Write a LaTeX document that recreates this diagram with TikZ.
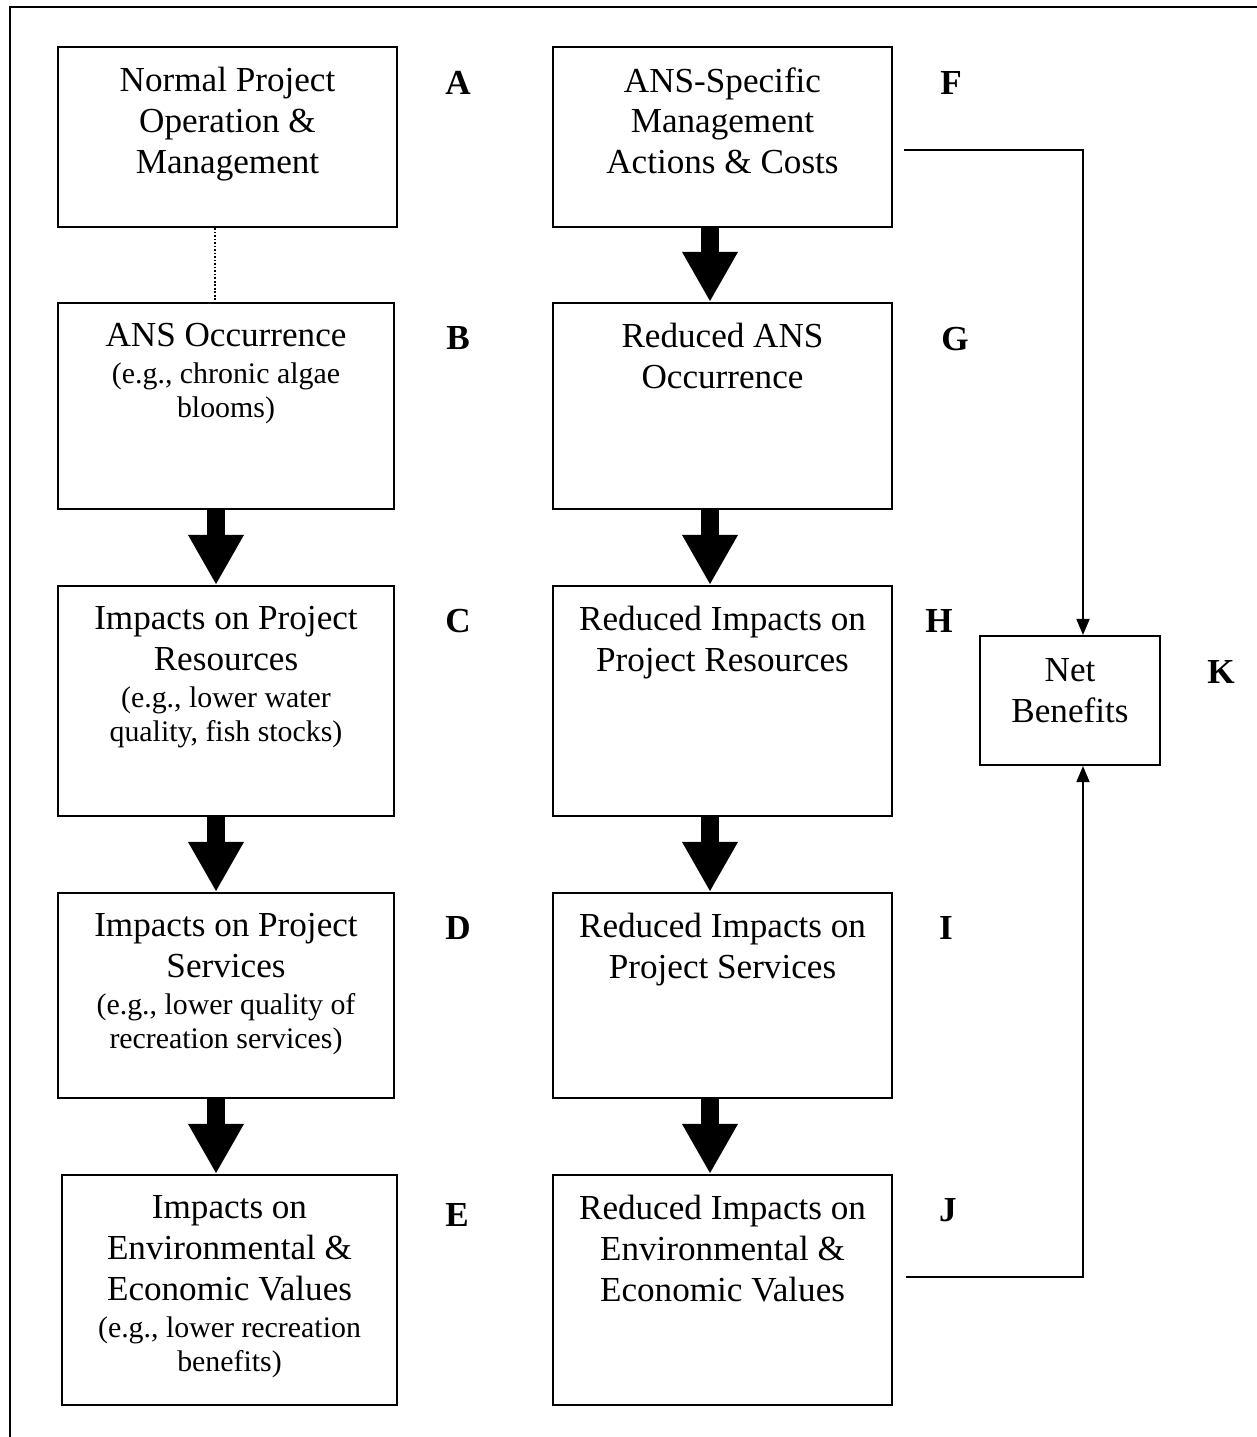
\documentclass[tikz,border=0pt]{standalone}
\usepackage{fontspec}
\setmainfont{Liberation Serif}
\usetikzlibrary{arrows.meta}

\newcommand\mainfnt{\fontsize{20}{23.3}\selectfont}
\newcommand\notefnt{\fontsize{17}{19.3}\selectfont}
\newcommand\note[1]{\par\vspace{1.8pt}{\notefnt #1\par}}

\begin{document}
\begin{tikzpicture}[x=0.02cm,y=-0.02cm]
    \tikzstyle{stage}=[draw,line width=1.2pt,inner sep=0pt]
    \tikzstyle{stagetext}=[anchor=north,text width=6.5cm,align=flush center,inner sep=0pt,font=\mainfnt]
    \tikzstyle{tag}=[font=\mainfnt\bfseries,inner sep=0pt]
    \tikzstyle{bigarrow}=[line width=0.36cm,-{Triangle[width=1.04cm,length=1cm]}]
    \tikzstyle{link}=[line width=1pt,-{Triangle[width=0.26cm,length=0.32cm]}]

    \useasboundingbox (0,0) rectangle (1257,1437);

    % outer frame (right and bottom edges lie outside the page)
    \draw[line width=1.6pt] (10,1460) -- (10,7) -- (1280,7);

    % left column: without ANS management
    \node[stage,minimum width=6.78cm,minimum height=3.6cm] (A) at (227.5,137) {};
    \node[stage,minimum width=6.72cm,minimum height=4.12cm] (B) at (226,406) {};
    \node[stage,minimum width=6.72cm,minimum height=4.6cm] (C) at (226,701) {};
    \node[stage,minimum width=6.72cm,minimum height=4.1cm] (D) at (226,995.5) {};
    \node[stage,minimum width=6.7cm,minimum height=4.6cm] (E) at (229.5,1290) {};

    \node[stagetext] (A-txt) at ([yshift=-0.42cm]A.north)
      {Normal Project\\ Operation \&\\ Management};
    \node[stagetext] (B-txt) at ([yshift=-0.42cm]B.north)
      {ANS Occurrence\note{(e.g., chronic algae\\ blooms)}};
    \node[stagetext] (C-txt) at ([yshift=-0.42cm]C.north)
      {Impacts on Project\\ Resources\note{(e.g., lower water\\ quality, fish stocks)}};
    \node[stagetext] (D-txt) at ([yshift=-0.42cm]D.north)
      {Impacts on Project\\ Services\note{(e.g., lower quality of\\ recreation services)}};
    \node[stagetext] (E-txt) at ([yshift=-0.42cm]E.north)
      {Impacts on\\ Environmental \&\\ Economic Values\note{(e.g., lower recreation\\ benefits)}};

    % right column: with ANS management
    \node[stage,minimum width=6.78cm,minimum height=3.6cm] (F) at (722.5,137) {};
    \node[stage,minimum width=6.78cm,minimum height=4.12cm] (G) at (722.5,406) {};
    \node[stage,minimum width=6.78cm,minimum height=4.6cm] (H) at (722.5,701) {};
    \node[stage,minimum width=6.78cm,minimum height=4.1cm] (I) at (722.5,995.5) {};
    \node[stage,minimum width=6.78cm,minimum height=4.6cm] (J) at (722.5,1290) {};

    \node[stagetext] (F-txt) at ([yshift=-0.42cm]F.north)
      {ANS-Specific\\ Management\\ Actions \& Costs};
    \node[stagetext] (G-txt) at ([yshift=-0.42cm]G.north)
      {Reduced ANS\\ Occurrence};
    \node[stagetext] (H-txt) at ([yshift=-0.42cm]H.north)
      {Reduced Impacts on\\ Project Resources};
    \node[stagetext] (I-txt) at ([yshift=-0.42cm]I.north)
      {Reduced Impacts on\\ Project Services};
    \node[stagetext] (J-txt) at ([yshift=-0.42cm]J.north)
      {Reduced Impacts on\\ Environmental \&\\ Economic Values};

    % net benefits
    \node[stage,minimum width=3.6cm,minimum height=2.58cm] (K) at (1070,700.5) {};
    \node[align=center,font=\mainfnt,inner sep=0pt] (K-txt) at ([yshift=0.2cm]K.center) {Net\\ Benefits};

    % letter tags
    \foreach \n/\x/\y in {A/458/83, B/458/338, C/458/621, D/458/928, E/457/1215,
                          F/951/83, G/955/339, H/939/621, I/946/928, J/948/1210, K/1221/672}
    \node[tag] (tag-\n) at (\x,\y) {\n};

    % dotted link between normal operation and occurrence
    \draw[line width=0.9pt,dash pattern=on 1pt off 1pt]
      ([xshift=-0.25cm]A.south) -- ([xshift=-0.25cm]A.south |- B.north);

    % block arrows down each column
    \foreach \src/\dst in {B/C,C/D,D/E}
    \draw[bigarrow] ([xshift=-0.2cm]\src.south) -- ([xshift=-0.2cm]\src.south |- \dst.north);
    \foreach \src/\dst in {F/G,G/H,H/I,I/J}
    \draw[bigarrow] ([xshift=-0.25cm]\src.south) -- ([xshift=-0.25cm]\src.south |- \dst.north);

    % costs and benefits feed into net benefits
    \draw[link] ([shift={(0.22cm,-0.26cm)}]F.east) -| ([xshift=0.26cm]K.north);
    \draw[link] ([shift={(0.26cm,0.26cm)}]J.east) -| ([xshift=0.26cm]K.south);
\end{tikzpicture}
\end{document}
